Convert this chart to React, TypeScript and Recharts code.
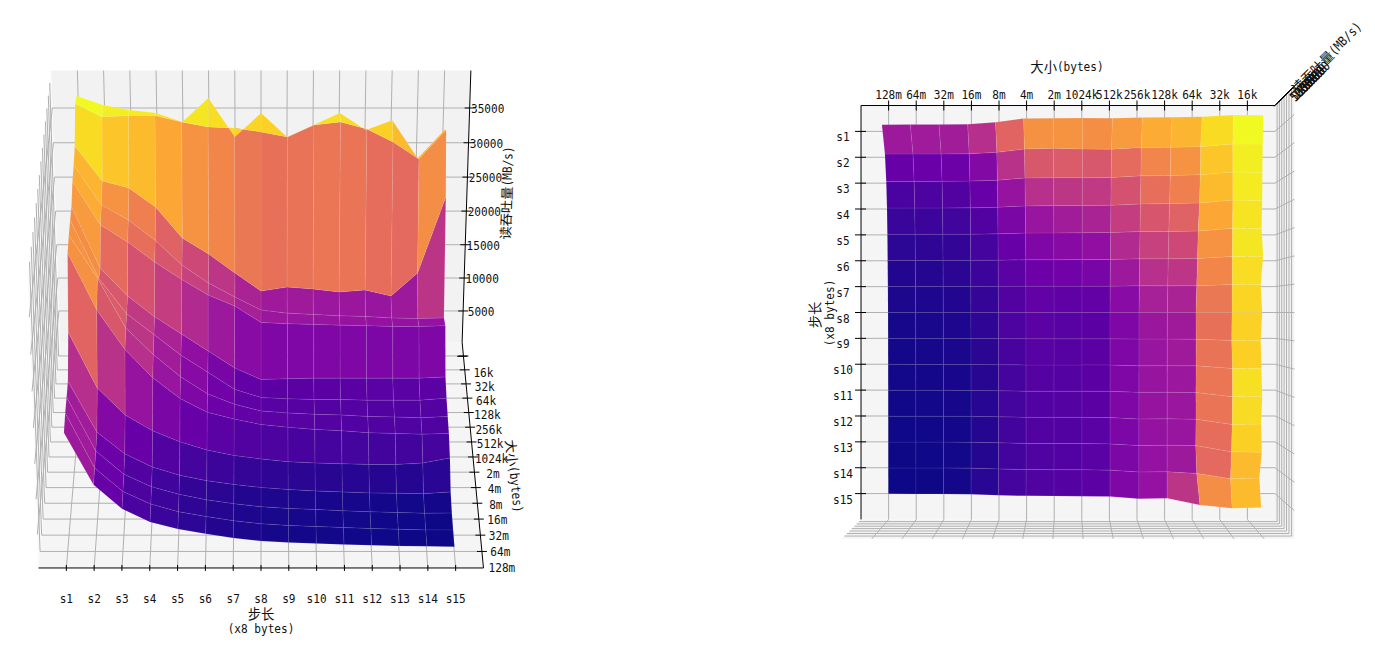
import { ScatterChart, Scatter, XAxis, YAxis } from "recharts";

// memory mountain, read throughput in MB/s
const strideLabels = ["s1", "s2", "s3", "s4", "s5", "s6", "s7", "s8", "s9", "s10", "s11", "s12", "s13", "s14", "s15"];
const sizeLabels = ["128m", "64m", "32m", "16m", "8m", "4m", "2m", "1024k", "512k", "256k", "128k", "64k", "32k", "16k"];
const zTicks = [5000, 10000, 15000, 20000, 25000, 30000, 35000];

// one list per stride, sizes run 128m -> 16k
const s1 = [17100, 17660, 17700, 17800, 22600, 31600, 32100, 32250, 32200, 33800, 34230, 35080, 39200, 38490];
const s2 = [9760, 9870, 10060, 10560, 14670, 23630, 26100, 24000, 23500, 27660, 28600, 30100, 37340, 37215];
const s3 = [6340, 6500, 6700, 7400, 10800, 18050, 19000, 19000, 19500, 25245, 26420, 29100, 37490, 36510];
const s4 = [4460, 4700, 4900, 5500, 8500, 14000, 15200, 16000, 16500, 22380, 23510, 26380, 37490, 36080];
const s5 = [3450, 3600, 3800, 4300, 6900, 11000, 12000, 13000, 14000, 19880, 19930, 21900, 36640, 34800];
const s6 = [2750, 2900, 3000, 3500, 5700, 9000, 9500, 10500, 11500, 17600, 17310, 19560, 35930, 38200];
const s7 = [2140, 2300, 2450, 2950, 4900, 8000, 8000, 8000, 9000, 16000, 15260, 16780, 35790, 32650];
const s8 = [1720, 1850, 2000, 2500, 4400, 7200, 7000, 6800, 7300, 13600, 13350, 14120, 35220, 36080];
const s9 = [1500, 1600, 1750, 2200, 4000, 6800, 6700, 6600, 7400, 13400, 12900, 14710, 34510, 32650];
const s10 = [1350, 1450, 1600, 2000, 3800, 6500, 6500, 6500, 7500, 13300, 12700, 14420, 36210, 34370];
const s11 = [1200, 1300, 1400, 1850, 3700, 6300, 6400, 6500, 7500, 13200, 12500, 13980, 36640, 36080];
const s12 = [1100, 1150, 1250, 1700, 3600, 6000, 6200, 6400, 7500, 13100, 12400, 14270, 35650, 33660];
const s13 = [1000, 1050, 1150, 1650, 3600, 5900, 6100, 6400, 7500, 13000, 12200, 13390, 33790, 35070];
const s14 = [950, 960, 1050, 1600, 3800, 5800, 6000, 6400, 7500, 13000, 12100, 16780, 31360, 29600];
const s15 = [870, 936, 1084, 1850, 4540, 5900, 6200, 6700, 7670, 13100, 12180, 27800, 35510, 33660];
const throughput = [s1, s2, s3, s4, s5, s6, s7, s8, s9, s10, s11, s12, s13, s14, s15];

const plasma = [
  [13, 8, 135], [65, 4, 157], [106, 0, 168], [143, 13, 164], [177, 42, 144], [204, 71, 120],
  [225, 100, 98], [241, 132, 75], [252, 166, 54], [252, 206, 37], [240, 249, 33],
];

const WIDTH = 1375;
const HEIGHT = 648;

// same camera as mplot3d: unit box scaled 4:4:3, eye 10 away
const BOX_XY = 0.595;
const BOX_Z = 0.447;
const Z_LOW = 195;
const Z_PER_UNIT = 44900;

type Vec = [number, number, number];
type View = { cx: number; cy: number; focal: number; right: Vec; up: Vec; eye: Vec };

const leftView: View = { cx: 261, cy: 312, focal: 3630, right: [1, 0, 0], up: [0, 0.5, 0.866], eye: [0, -0.866, 0.5] };
const rightView: View = { cx: 1068, cy: 312.5, focal: 3634, right: [0, 1, 0], up: [-1, 0, 0], eye: [0, 0, 1] };

const dot = (a: Vec, b: Vec) => a[0] * b[0] + a[1] * b[1] + a[2] * b[2];
const worldX = (stride: number) => (stride / 16 - 0.5) * 2 * BOX_XY;
const worldY = (size: number) => (size / 15 - 0.5) * 2 * BOX_XY;
const worldZ = (z: number) => (z - Z_LOW) / Z_PER_UNIT - BOX_Z;

const project = (v: View, p: Vec) => {
  const d = 10 - dot(p, v.eye);
  return { x: v.cx + (v.focal * dot(p, v.right)) / d, y: v.cy - (v.focal * dot(p, v.up)) / d, depth: d };
};

const colorAt = (t: number) => {
  const pos = Math.min(Math.max(t, 0), 1) * (plasma.length - 1);
  const i = Math.min(Math.floor(pos), plasma.length - 2);
  const f = pos - i;
  const c = plasma[i].map((ch, n) => Math.round(ch + (plasma[i + 1][n] - ch) * f));
  return `rgb(${c[0]},${c[1]},${c[2]})`;
};

function buildSurface(v: View) {
  const cells: { corners: any[]; avg: number; depth: number }[] = [];
  for (let r = 0; r < throughput.length - 1; r++) {
    for (let c = 0; c < sizeLabels.length - 1; c++) {
      const idx = [[r, c], [r, c + 1], [r + 1, c + 1], [r + 1, c]];
      const corners = idx.map(([a, b]) => project(v, [worldX(a + 1), worldY(b + 1), worldZ(throughput[a][b])]));
      cells.push({
        corners,
        avg: idx.reduce((sum, [a, b]) => sum + throughput[a][b], 0) / 4,
        depth: corners.reduce((sum, p) => sum + p.depth, 0) / 4,
      });
    }
  }
  const lo = Math.min(...cells.map((c) => c.avg));
  const hi = Math.max(...cells.map((c) => c.avg));
  cells.sort((a, b) => b.depth - a.depth);
  return {
    points: cells.flatMap((c) => c.corners.map((p) => ({ x: p.x, y: p.y }))),
    fills: cells.map((c) => colorAt((c.avg - lo) / (hi - lo))),
  };
}

// walls and grid; sideX is where the stride-side wall sits, -1 or +1
function buildFrame(v: View, sideX: number) {
  const P = (a: number, b: number, c: number) => {
    const q = project(v, [a, b, c]);
    return { x: q.x, y: q.y };
  };
  const wallX = sideX * BOX_XY;
  const panes = [
    P(-BOX_XY, -BOX_XY, -BOX_Z), P(BOX_XY, -BOX_XY, -BOX_Z), P(BOX_XY, BOX_XY, -BOX_Z), P(-BOX_XY, BOX_XY, -BOX_Z),
    P(-BOX_XY, BOX_XY, -BOX_Z), P(BOX_XY, BOX_XY, -BOX_Z), P(BOX_XY, BOX_XY, BOX_Z), P(-BOX_XY, BOX_XY, BOX_Z),
    P(wallX, -BOX_XY, -BOX_Z), P(wallX, BOX_XY, -BOX_Z), P(wallX, BOX_XY, BOX_Z), P(wallX, -BOX_XY, BOX_Z),
  ];
  const grid: { x: number; y: number }[] = [];
  strideLabels.forEach((_, i) => {
    const wx = worldX(i + 1);
    grid.push(P(wx, -BOX_XY, -BOX_Z), P(wx, BOX_XY, -BOX_Z));
    grid.push(P(wx, BOX_XY, -BOX_Z), P(wx, BOX_XY, BOX_Z));
  });
  sizeLabels.forEach((_, i) => {
    const wy = worldY(i + 1);
    grid.push(P(-BOX_XY, wy, -BOX_Z), P(BOX_XY, wy, -BOX_Z));
    grid.push(P(wallX, wy, -BOX_Z), P(wallX, wy, BOX_Z));
  });
  zTicks.forEach((z) => {
    const wz = worldZ(z);
    grid.push(P(-BOX_XY, BOX_XY, wz), P(BOX_XY, BOX_XY, wz));
    grid.push(P(wallX, -BOX_XY, wz), P(wallX, BOX_XY, wz));
  });
  return { panes, grid, P };
}

function buildLeftAxes() {
  const { P } = buildFrame(leftView, -1);
  const lines = [
    P(-BOX_XY, -BOX_XY, -BOX_Z), P(BOX_XY, -BOX_XY, -BOX_Z),
    P(BOX_XY, -BOX_XY, -BOX_Z), P(BOX_XY, BOX_XY, -BOX_Z),
    P(BOX_XY, BOX_XY, -BOX_Z), P(BOX_XY, BOX_XY, BOX_Z),
  ];
  const labels: any[] = [];
  strideLabels.forEach((text, i) => {
    const t = P(worldX(i + 1), -BOX_XY, -BOX_Z);
    lines.push({ x: t.x, y: t.y - 3 }, { x: t.x, y: t.y + 3 });
    labels.push({ x: t.x, y: t.y + 30, text });
  });
  sizeLabels.forEach((text, i) => {
    const t = P(BOX_XY, worldY(i + 1), -BOX_Z);
    lines.push({ x: t.x - 5, y: t.y }, { x: t.x + 5, y: t.y });
    labels.push({ x: t.x + 20, y: t.y + 16, text });
  });
  const extra = P(BOX_XY, worldY(15), -BOX_Z);
  lines.push({ x: extra.x - 5, y: extra.y + 14 }, { x: extra.x + 5, y: extra.y + 14 });
  zTicks.forEach((z) => {
    const t = P(BOX_XY, BOX_XY, worldZ(z));
    lines.push({ x: t.x - 5, y: t.y }, { x: t.x + 5, y: t.y });
    labels.push({ x: t.x + 18, y: t.y, text: String(z) });
  });
  labels.push(
    { x: 261, y: 613, text: "步长" },
    { x: 261, y: 628, text: "(x8 bytes)" },
    { x: 506, y: 193, text: "读吞吐量(MB/s)", rotate: -88 },
    { x: 515, y: 476, text: "大小(bytes)", rotate: 84 },
  );
  return { lines, labels };
}

function buildRightAxes() {
  const { P } = buildFrame(rightView, 1);
  const lines = [
    P(-BOX_XY, -BOX_XY, -BOX_Z), P(-BOX_XY, BOX_XY, -BOX_Z),
    P(-BOX_XY, -BOX_XY, -BOX_Z), P(BOX_XY, -BOX_XY, -BOX_Z),
    P(-BOX_XY, BOX_XY, -BOX_Z), P(-BOX_XY, BOX_XY, BOX_Z),
  ];
  const labels: any[] = [];
  sizeLabels.forEach((text, i) => {
    const t = P(-BOX_XY, worldY(i + 1), -BOX_Z);
    lines.push({ x: t.x, y: t.y - 5 }, { x: t.x, y: t.y + 5 });
    labels.push({ x: t.x, y: t.y - 12, text });
  });
  strideLabels.forEach((text, i) => {
    const t = P(worldX(i + 1), -BOX_XY, -BOX_Z);
    lines.push({ x: t.x - 6, y: t.y }, { x: t.x + 5, y: t.y });
    labels.push({ x: t.x - 18, y: t.y + 5, text });
  });
  zTicks.forEach((z) => {
    const t = P(-BOX_XY, BOX_XY, worldZ(z));
    lines.push({ x: t.x - 3, y: t.y + 3 }, { x: t.x + 7, y: t.y - 7 });
    labels.push({ x: t.x + 24, y: t.y - 14, text: String(z), rotate: -45 });
  });
  labels.push(
    { x: 1067, y: 66, text: "大小(bytes)" },
    { x: 814, y: 315, text: "步长", rotate: -90 },
    { x: 829, y: 313, text: "(x8 bytes)", rotate: -90 },
    { x: 1326, y: 57, text: "读吞吐量(MB/s)", rotate: -45 },
  );
  return { lines, labels };
}

const noDot = () => <g />;

const polygons = (fills: string[], seam = false) => (props: any) => {
  const pts = props.points as { x: number; y: number }[];
  return (
    <g>
      {fills.map((fill, i) => (
        <polygon
          key={i}
          points={pts.slice(i * 4, i * 4 + 4).map((p) => `${p.x},${p.y}`).join(" ")}
          fill={fill}
          stroke={seam ? "#fff" : "none"}
          strokeOpacity={0.13}
          strokeWidth={0.6}
        />
      ))}
    </g>
  );
};

const segments = (stroke: string, width: number) => (props: any) => {
  const pts = props.points as { x: number; y: number }[];
  let d = "";
  for (let i = 0; i + 1 < pts.length; i += 2) {
    d += `M${pts[i].x} ${pts[i].y}L${pts[i + 1].x} ${pts[i + 1].y}`;
  }
  return <path d={d} stroke={stroke} strokeWidth={width} fill="none" />;
};

const LabelMark = (props: any) => {
  const { cx, cy, payload } = props;
  const runs: string[] = payload.text.match(/[\u4e00-\u9fff]+|[^\u4e00-\u9fff]+/g);
  return (
    <text
      x={cx}
      y={cy}
      textAnchor="middle"
      dominantBaseline="central"
      fill="#111"
      transform={payload.rotate ? `rotate(${payload.rotate} ${cx} ${cy})` : undefined}
    >
      {runs.map((run, i) =>
        /[\u4e00-\u9fff]/.test(run) ? (
          <tspan key={i} fontFamily="'Noto Sans CJK SC'" fontSize={13.3}>{run}</tspan>
        ) : (
          <tspan
            key={i}
            fontFamily="'DejaVu Sans Mono'"
            fontSize={13}
            textLength={run.length * 6.67}
            lengthAdjust="spacingAndGlyphs"
          >
            {run}
          </tspan>
        ),
      )}
    </text>
  );
};

const paneFills = (v: "left" | "right") =>
  v === "left" ? ["#f5f5f5", "#f2f2f2", "#f9f9f9"] : ["#f5f5f5", "#f2f2f2", "#f4f4f4"];

export default function App() {
  const leftFrame = buildFrame(leftView, -1);
  const rightFrame = buildFrame(rightView, 1);
  const leftSurface = buildSurface(leftView);
  const rightSurface = buildSurface(rightView);
  const leftAxes = buildLeftAxes();
  const rightAxes = buildRightAxes();

  const layer = (key: string, data: any[], line: any) => (
    <Scatter key={key} data={data} line={line} shape={noDot} isAnimationActive={false} legendType="none" />
  );

  return (
    <div style={{ position: "absolute", left: 0, top: 0, width: WIDTH, height: HEIGHT }}>
      <ScatterChart width={WIDTH} height={HEIGHT} margin={{ top: 0, right: 0, bottom: 0, left: 0 }}>
        <XAxis type="number" dataKey="x" domain={[0, WIDTH]} hide />
        <YAxis type="number" dataKey="y" domain={[0, HEIGHT]} reversed hide />
        {layer("left-panes", leftFrame.panes, polygons(paneFills("left")))}
        {layer("left-grid", leftFrame.grid, segments("#b0b0b0", 1))}
        {layer("left-axes", leftAxes.lines, segments("#000", 1))}
        {layer("left-surface", leftSurface.points, polygons(leftSurface.fills, true))}
        {layer("right-panes", rightFrame.panes, polygons(paneFills("right")))}
        {layer("right-grid", rightFrame.grid, segments("#b0b0b0", 1))}
        {layer("right-axes", rightAxes.lines, segments("#000", 1))}
        {layer("right-surface", rightSurface.points, polygons(rightSurface.fills, true))}
        <Scatter
          data={[...leftAxes.labels, ...rightAxes.labels]}
          shape={LabelMark}
          isAnimationActive={false}
          legendType="none"
        />
      </ScatterChart>
    </div>
  );
}
